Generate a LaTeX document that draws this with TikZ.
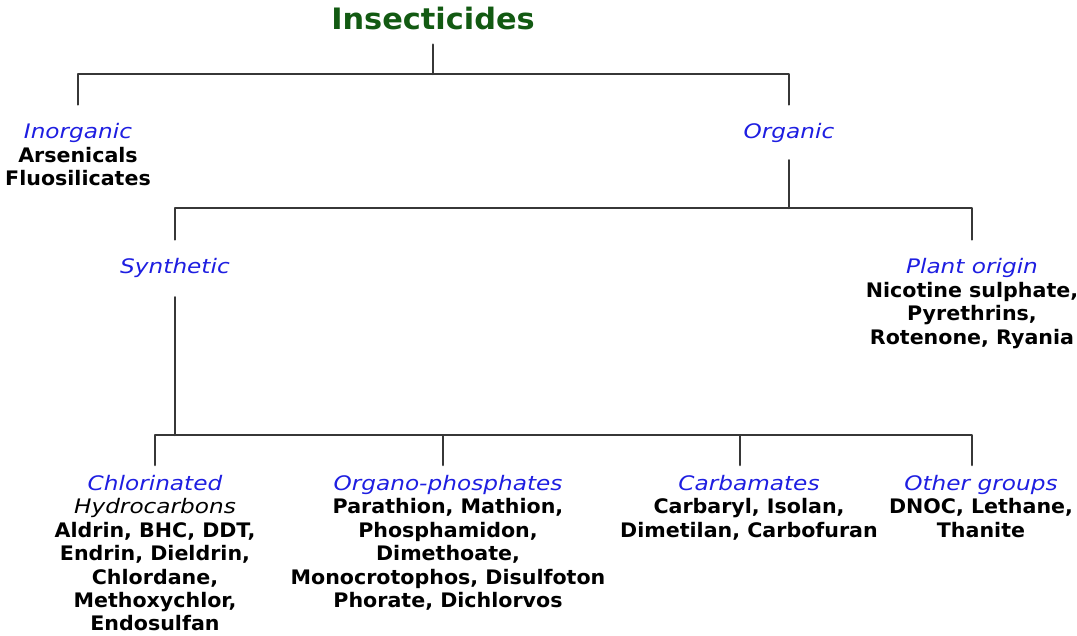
\documentclass[tikz,border=0pt]{standalone}
\usepackage{fontspec}
\setmainfont[FakeStretch=1.03,ItalicFeatures={FakeStretch=1.16}]{DejaVu Sans}
\definecolor{insgreen}{RGB}{18,90,18}
\definecolor{grpblue}{RGB}{30,30,225}
\definecolor{linegray}{RGB}{55,55,55}
\newcommand{\grp}[1]{\textcolor{grpblue}{\mdseries\itshape #1}}

\begin{document}
\begin{tikzpicture}[x=1pt,y=-1pt,line join=round,line cap=round,
    title/.style={inner sep=0pt,text=insgreen,font=\bfseries\fontsize{29.5}{34}\selectfont},
    grp/.style={inner sep=0pt,anchor=north,align=center,font=\bfseries\fontsize{20}{23.4}\selectfont},
    branch/.style={draw=linegray,line width=2.5pt}]
    \useasboundingbox (0,0) rectangle (1077,635);
    % labels
    \node[title] (ins) at (433,18) {Insecticides};
    \node[grp] (inorg) at (78,123.5) {\grp{Inorganic}\\Arsenicals\\Fluosilicates};
    \node[grp] (org) at (789,123.5) {\grp{Organic}};
    \node[grp] (syn) at (175,258.5) {\grp{Synthetic}};
    \node[grp] (plant) at (972,258.5) {\grp{Plant origin}\\Nicotine sulphate,\\Pyrethrins,\\Rotenone, Ryania};
    \node[grp] (chl) at (155,475) {\grp{Chlorinated}\\{\mdseries\itshape Hydrocarbons}\\Aldrin, BHC, DDT,\\Endrin, Dieldrin,\\Chlordane,\\Methoxychlor,\\Endosulfan};
    \node[grp] (oph) at (448,475) {\grp{Organo-phosphates}\\Parathion, Mathion,\\Phosphamidon,\\Dimethoate,\\Monocrotophos, Disulfoton\\Phorate, Dichlorvos};
    \node[grp] (carb) at (749,475) {\grp{Carbamates}\\Carbaryl, Isolan,\\Dimetilan, Carbofuran};
    \node[grp] (oth) at (981,475) {\grp{Other groups}\\DNOC, Lethane,\\Thanite};
    % bars and drop points
    \coordinate (bar1) at (0,74);
    \coordinate (bar2) at (0,208);
    \coordinate (bar3) at (0,435);
    \coordinate (oph-top) at ([xshift=-5pt]oph.north);
    \coordinate (carb-top) at ([xshift=-9pt]carb.north);
    \coordinate (oth-top) at ([xshift=-9pt]oth.north);
    % tree
    \draw[branch,shorten <=15pt] (ins.south) -- (ins.south |- bar1);
    \draw[branch,shorten >=19pt] (ins.south |- bar1) -| (inorg.north);
    \draw[branch,shorten >=19pt] (ins.south |- bar1) -| (org.north);
    \draw[branch,shorten <=17pt] (org.south) -- (org.south |- bar2);
    \draw[branch,shorten >=19pt] (org.south |- bar2) -| (syn.north);
    \draw[branch,shorten >=19pt] (org.south |- bar2) -| (plant.north);
    \draw[branch,shorten <=19pt] (syn.south) -- (syn.south |- bar3);
    \foreach \n in {chl.north,oph-top,carb-top,oth-top}
    \draw[branch,shorten >=10pt] (syn.south |- bar3) -| (\n);
\end{tikzpicture}
\end{document}
